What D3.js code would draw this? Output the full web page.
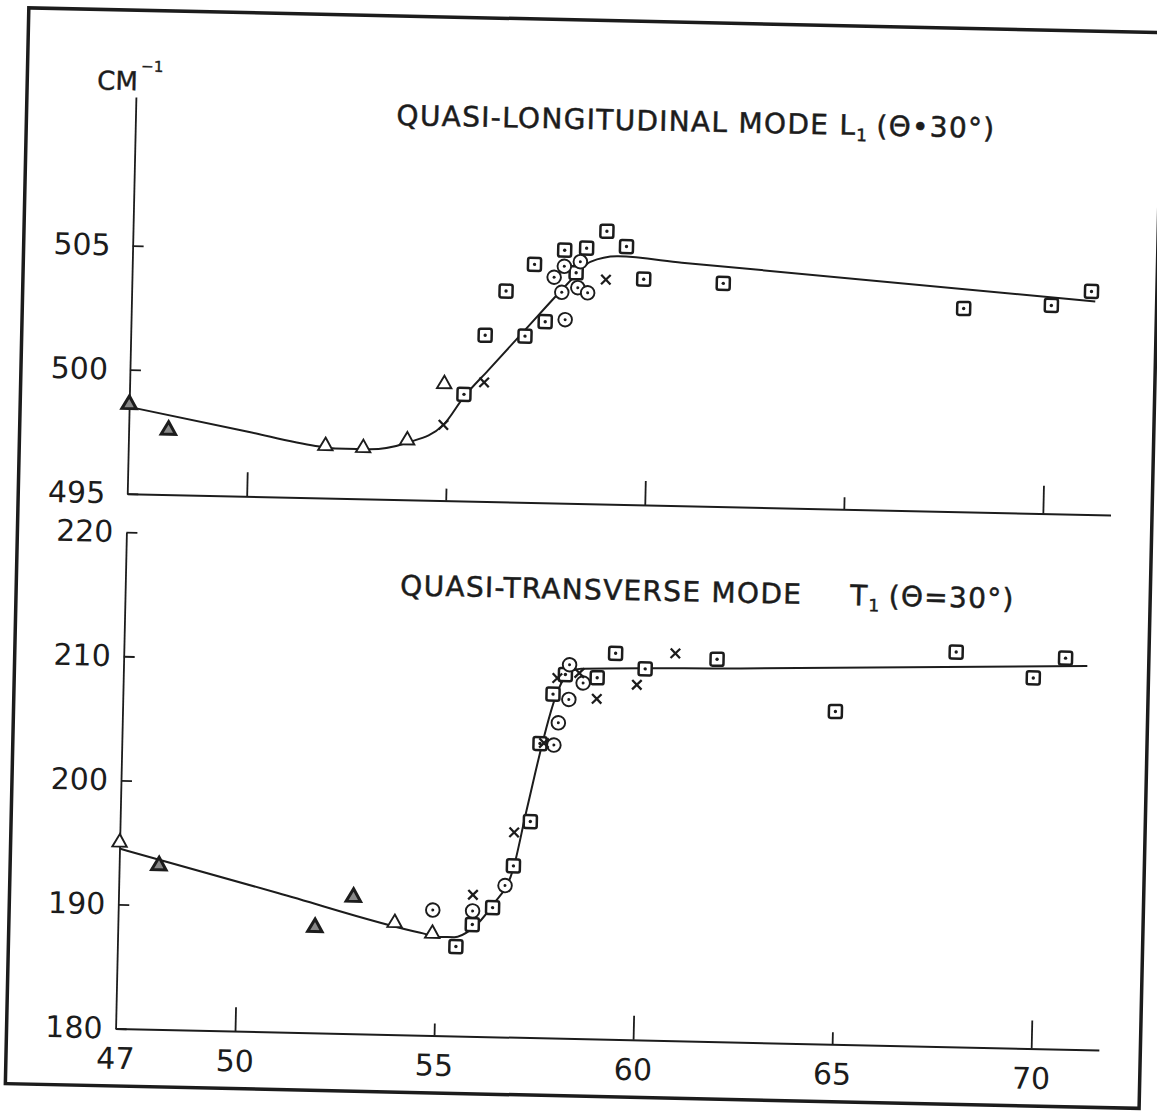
<!DOCTYPE html>
<html>
<head>
<meta charset="utf-8">
<script src="https://cdn.jsdelivr.net/npm/d3@7"></script>
<style>
body { margin: 0; background: #fff; }
svg text { font-family: "DejaVu Sans", sans-serif; fill: #1c1c1c; }
</style>
</head>
<body>
<div id="chart"></div>
<script>
const width = 1157
const height = 1112

// axis ticks
const xTickValues = [50, 55, 60, 65, 70]
const xTickLabels = [47, 50, 55, 60, 65, 70]
const topYTicks = [495, 500, 505]
const botYTicks = [180, 190, 200, 210, 220]

// upper panel: quasi-longitudinal mode L1
const topCurve = [[47, 498.5], [50, 497.6], [51.7, 497.09], [52.2, 497.0], [53, 497.0], [54, 497.3], [54.9, 498.05],
  [55.4, 499.2], [56, 500.3], [56.9, 501.95], [57.8, 503.6], [58.2, 504.3], [58.5, 504.75], [59.2, 505.0],
  [60.8, 504.8], [71.2, 503.6]]
const topTrianglesDark = [[47.0, 498.6], [48.0, 497.6]]
const topTriangles = [[51.95, 497.1], [52.9, 497.05], [54.0, 497.4], [54.9, 499.7]]
const topSquares = [[55.4, 499.3], [55.9, 501.7], [56.9, 501.7], [57.4, 502.3], [56.4, 503.5], [57.1, 504.6],
  [58.15, 504.3], [57.85, 505.2], [58.4, 505.3], [58.9, 506.0], [59.4, 505.4], [59.85, 504.1],
  [61.85, 504.0], [67.9, 503.2], [70.1, 503.4], [71.1, 504.0]]
const topCircles = [[57.9, 502.4], [57.8, 503.5], [58.2, 503.7], [58.45, 503.5], [57.85, 504.55], [58.25, 504.75], [57.6, 504.1]]
const topCrosses = [[54.9, 498.05], [55.9, 499.8], [58.9, 504.05]]

// lower panel: quasi-transverse mode T1
const botCurve = [[47, 194.5], [51, 191.2], [54.6, 188.25], [55.1, 187.95], [55.45, 187.95], [55.85, 188.55],
  [56.4, 190.6], [56.9, 193.6], [57.2, 198.3], [57.9, 207.8], [58.15, 209.4], [58.5, 209.8], [62.5, 210.1], [71.2, 210.9]]
const botTrianglesDark = [[48.0, 193.2], [51.95, 188.5], [52.9, 191.0]]
const botTriangles = [[47.0, 195.0], [53.95, 189.0], [54.9, 188.2]]
const botSquares = [[55.5, 187.2], [55.9, 189.0], [56.4, 190.4], [56.9, 193.8], [57.3, 197.4], [57.5, 203.7],
  [57.8, 207.7], [58.1, 209.3], [58.9, 209.1], [59.35, 211.1], [60.1, 209.9], [61.9, 210.8],
  [64.9, 206.8], [67.9, 211.8], [69.85, 209.85], [70.65, 211.5]]
const botCircles = [[54.9, 190.1], [55.9, 190.1], [56.7, 192.2], [57.85, 203.6], [57.95, 205.4], [58.2, 207.3], [58.55, 208.65], [58.2, 210.1]]
const botCrosses = [[55.9, 191.4], [56.9, 196.5], [57.6, 203.75], [57.9, 209.0], [58.45, 209.45], [58.9, 207.4], [59.9, 208.6], [60.85, 211.2]]

const ink = "#1c1c1c"

let svg = d3.select("#chart")
  .append("svg")
  .attr("width", width)
  .attr("height", height)

// the scanned sheet sits a little askew
let sheet = svg.append("g")
  .attr("transform", "rotate(1.25, 578, 556)")

sheet.append("rect")
  .attr("x", 17).attr("y", 20)
  .attr("width", 1134).attr("height", 1076)
  .attr("fill", "none")
  .attr("stroke", ink)
  .attr("stroke-width", 3.5)

let x = d3.scaleLinear().domain([47, 71.7]).range([126, 1109.5])
let yTop = d3.scaleLinear().domain([495, 511]).range([503.5, 106.7])
let yBot = d3.scaleLinear().domain([180, 220]).range([1038.5, 542])

function tickLen(d) {
  if (d === 47) return 0
  if (d === 70) return -28
  return d % 10 === 0 ? -24 : -12
}

function drawPanel(y, yTicks, yPad, showX) {
  let g = sheet.append("g")

  let xa = g.append("g")
    .attr("transform", "translate(0," + y.range()[0] + ")")
    .attr("color", ink)
    .call(d3.axisBottom(x)
      .tickValues(showX ? xTickLabels : xTickValues)
      .tickSizeOuter(0)
      .tickSizeInner(-24)
      .tickPadding(19)
      .tickFormat(showX ? d3.format("d") : ""))
  xa.select(".domain").attr("stroke-width", 2)
  xa.selectAll(".tick line").attr("y2", tickLen).attr("stroke-width", 1.8)
  xa.selectAll("text").attr("font-size", 30).attr("font-family", null)

  let ya = g.append("g")
    .attr("transform", "translate(" + x(47) + ",0)")
    .attr("color", ink)
    .call(d3.axisLeft(y)
      .tickValues(yTicks)
      .tickSizeOuter(0)
      .tickSizeInner(-11)
      .tickPadding(yPad)
      .tickFormat(d3.format("d")))
  ya.select(".domain").attr("stroke-width", 1.8)
  ya.selectAll(".tick line").attr("stroke-width", 1.8)
  ya.selectAll("text").attr("font-size", 30).attr("font-family", null)

  return g
}

function drawSeries(g, y, curve, tri, triDark, squares, circles, crosses) {
  let line = d3.line()
    .x(d => x(d[0]))
    .y(d => y(d[1]))
    .curve(d3.curveMonotoneX)

  g.append("path")
    .datum(curve)
    .attr("d", line)
    .attr("fill", "none")
    .attr("stroke", ink)
    .attr("stroke-width", 2)

  let triangle = d3.symbol().type(d3.symbolTriangle).size(90)

  g.append("g").selectAll("path")
    .data(tri).enter().append("path")
    .attr("d", triangle)
    .attr("transform", d => "translate(" + x(d[0]) + "," + y(d[1]) + ")")
    .attr("fill", "#fff").attr("stroke", ink).attr("stroke-width", 1.9)

  g.append("g").selectAll("path")
    .data(triDark).enter().append("path")
    .attr("d", triangle)
    .attr("transform", d => "translate(" + x(d[0]) + "," + y(d[1]) + ")")
    .attr("fill", "#888").attr("stroke", ink).attr("stroke-width", 3)

  let sq = g.append("g").selectAll("g")
    .data(squares).enter().append("g")
    .attr("transform", d => "translate(" + x(d[0]) + "," + y(d[1]) + ")")
  sq.append("rect")
    .attr("x", -6.5).attr("y", -6.5).attr("width", 13).attr("height", 13).attr("rx", 2)
    .attr("fill", "#fff").attr("stroke", ink).attr("stroke-width", 2.5)
  sq.append("circle").attr("r", 1.7).attr("fill", ink)

  let ci = g.append("g").selectAll("g")
    .data(circles).enter().append("g")
    .attr("transform", d => "translate(" + x(d[0]) + "," + y(d[1]) + ")")
  ci.append("circle").attr("r", 6.8)
    .attr("fill", "#fff").attr("stroke", ink).attr("stroke-width", 1.9)
  ci.append("circle").attr("r", 1.5).attr("fill", ink)

  g.append("g").selectAll("path")
    .data(crosses).enter().append("path")
    .attr("d", d3.symbol().type(d3.symbolTimes).size(60))
    .attr("transform", d => "translate(" + x(d[0]) + "," + y(d[1]) + ")")
    .attr("fill", "none").attr("stroke", ink).attr("stroke-width", 2.3)
}

let topPanel = drawPanel(yTop, topYTicks, 22, false)
drawSeries(topPanel, yTop, topCurve, topTriangles, topTrianglesDark, topSquares, topCircles, topCrosses)

let botPanel = drawPanel(yBot, botYTicks, 13, true)
drawSeries(botPanel, yBot, botCurve, botTriangles, botTrianglesDark, botSquares, botCircles, botCrosses)

// unit label
let unit = sheet.append("text")
  .attr("x", 87).attr("y", 100)
  .attr("font-size", 26)
  .attr("stroke", ink).attr("stroke-width", 0.4)
unit.append("tspan").text("CM")
unit.append("tspan").attr("dx", 3).attr("dy", -19).attr("font-size", 15).text("−1")

// panel titles
let t1 = sheet.append("text")
  .attr("x", 387).attr("y", 129)
  .attr("font-size", 28)
  .attr("letter-spacing", 1.3)
  .attr("stroke", ink).attr("stroke-width", 0.5)
t1.append("tspan").text("QUASI-LONGITUDINAL MODE L")
t1.append("tspan").attr("dy", 6).attr("font-size", 17).text("1")
t1.append("tspan").attr("dy", -6).attr("dx", 8).text("(Θ•30°)")

let t2 = sheet.append("text")
  .attr("x", 401).attr("y", 599)
  .attr("font-size", 28)
  .attr("letter-spacing", 1.3)
  .attr("stroke", ink).attr("stroke-width", 0.5)
t2.append("tspan").text("QUASI-TRANSVERSE MODE")
t2.append("tspan").attr("dx", 48).text("T")
t2.append("tspan").attr("dy", 6).attr("font-size", 17).text("1")
t2.append("tspan").attr("dy", -6).attr("dx", 8).text("(Θ=30°)")
</script>
</body>
</html>
